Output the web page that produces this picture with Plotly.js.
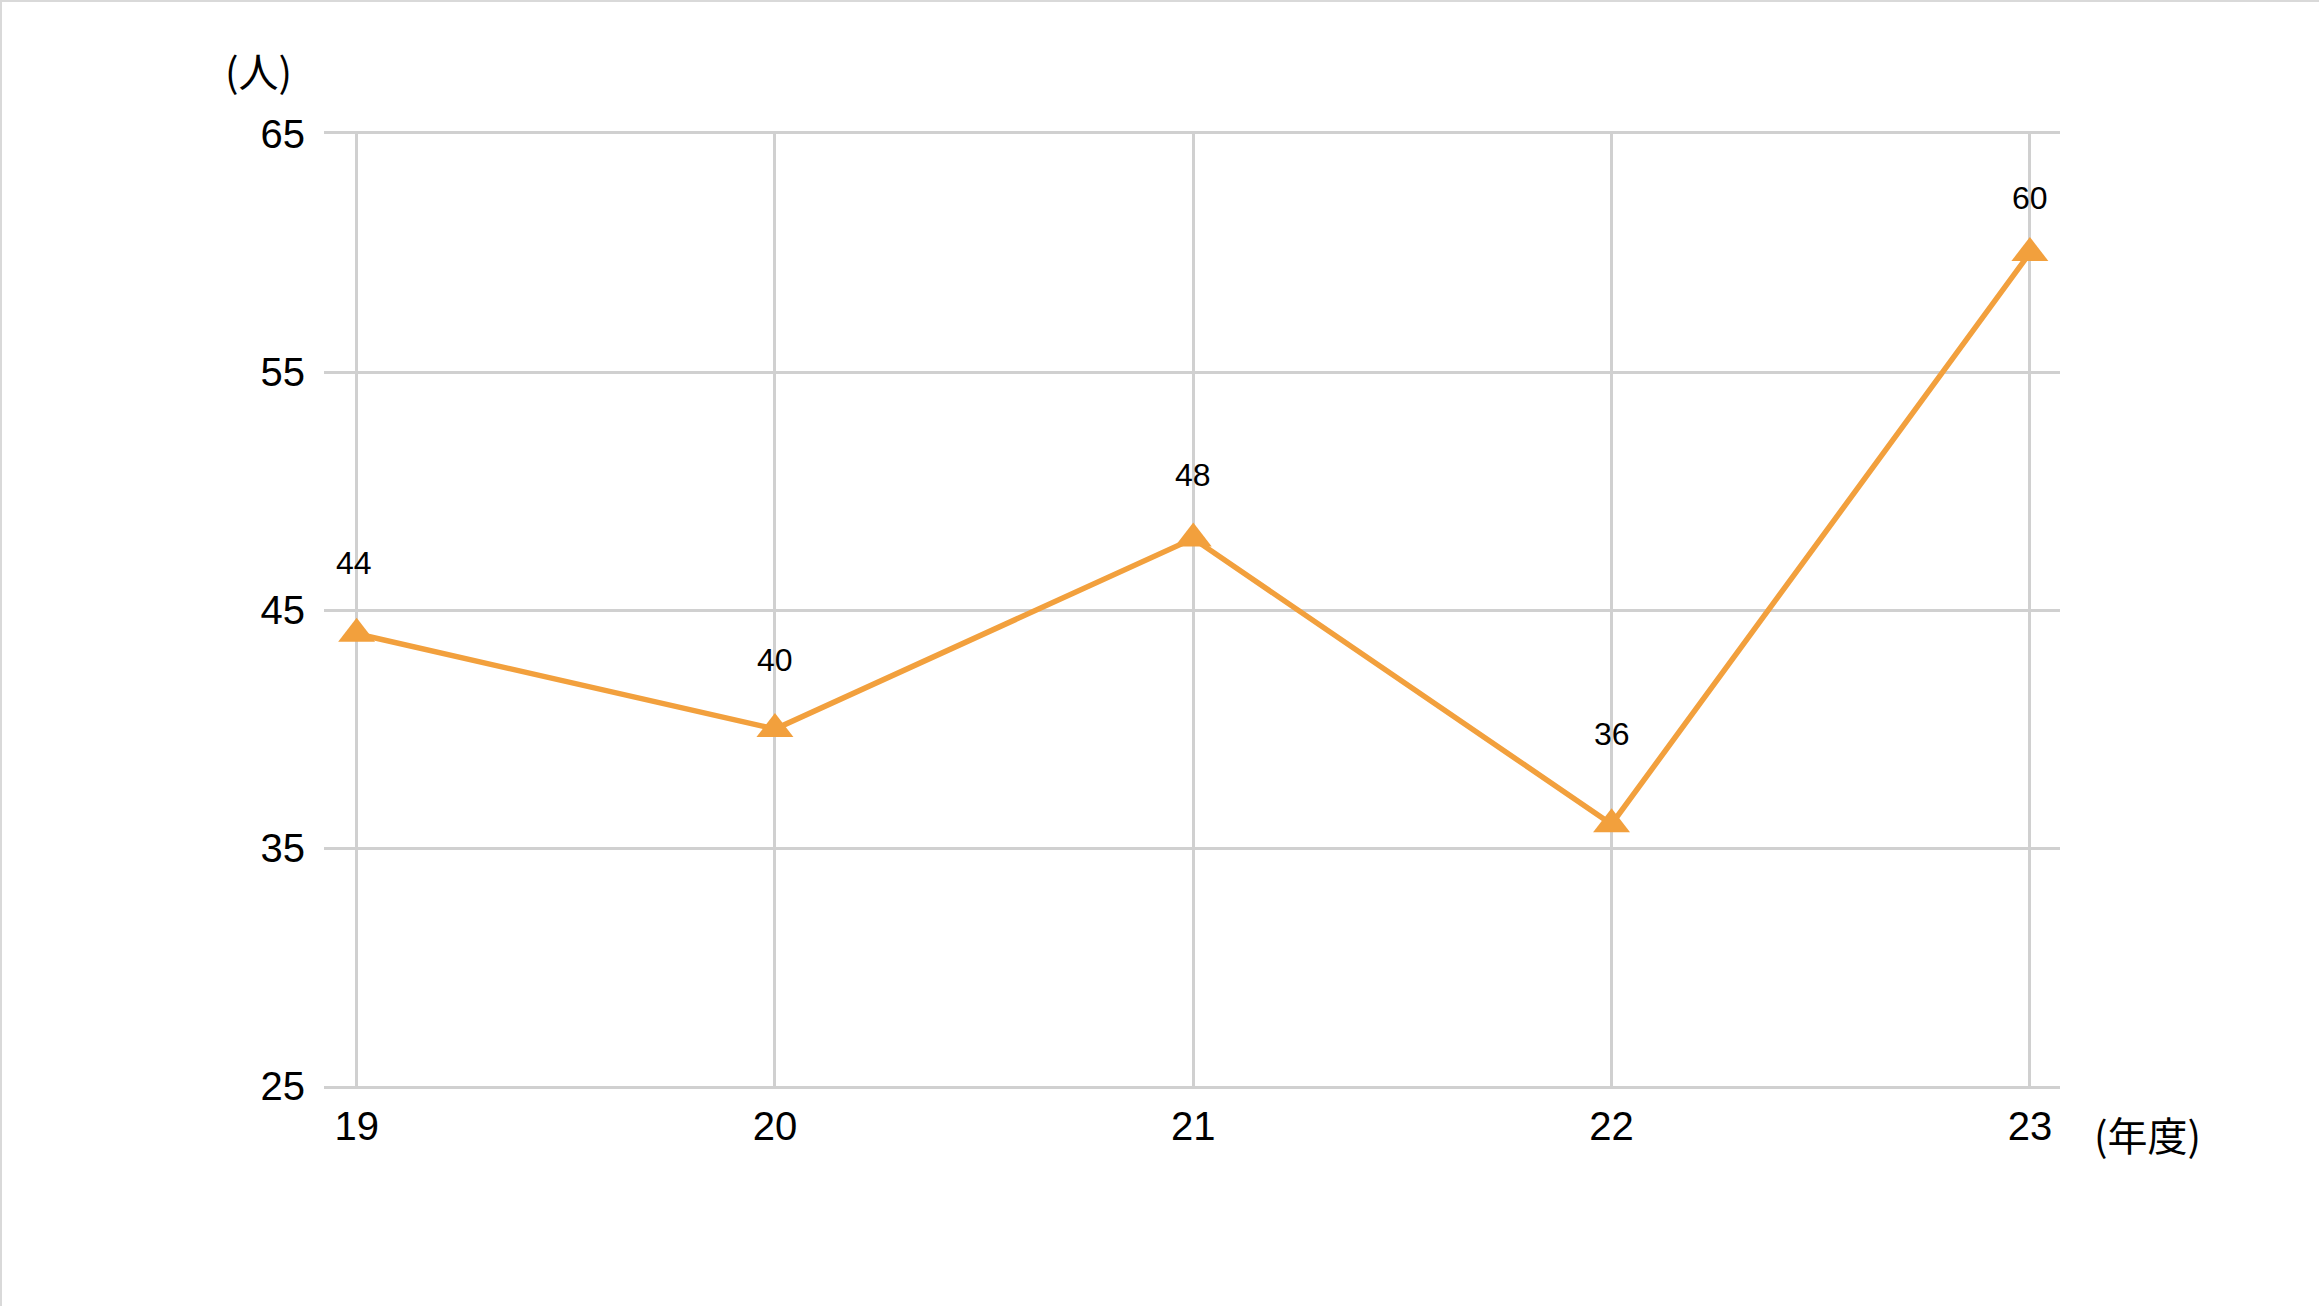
<!DOCTYPE html>
<html>
<head>
<meta charset="utf-8">
<script src="https://cdn.plot.ly/plotly-3.0.1.min.js"></script>
<style>
  html, body { margin: 0; padding: 0; background: #fff; }
  #chart { position: absolute; left: 0; top: 0; width: 2319px; height: 1306px; }
  #frame { position: absolute; left: 0; top: 0; width: 2319px; height: 1306px;
           border-top: 2px solid #d9d9d9; border-left: 2px solid #d9d9d9;
           box-sizing: border-box; pointer-events: none; }
</style>
</head>
<body>
<div id="chart"></div>
<div id="frame"></div>
<script>
// ---- data ----
const years = ['19', '20', '21', '22', '23'];
const people = [44, 40, 48, 36, 60];
const yTicks = [25, 35, 45, 55, 65];
const yUnit = '(人)';
const xUnit = '(年度)';

// ---- presentation ----
const lineColor = '#F2A03D';
const gridColor = '#d0d0d0';
const labelShift = [71, 69, 64, 90, 55];
const baseFont = 'Liberation Sans, Arial, Helvetica, sans-serif';
const cjkFont = 'Noto Sans CJK JP, Noto Sans, sans-serif';

const trace = {
  type: 'scatter',
  mode: 'lines+markers',
  x: years,
  y: people,
  line: { color: lineColor, width: 5.5 },
  marker: { symbol: 'triangle-up', size: 32, color: lineColor },
  hoverinfo: 'skip',
  cliponaxis: false
};

const annotations = years.map((yr, i) => ({
  x: i, y: people[i], xref: 'x', yref: 'y',
  text: String(people[i]), showarrow: false,
  yanchor: 'middle', xanchor: 'center',
  xshift: i === 0 ? -3 : 0,
  yshift: labelShift[i],
  font: { family: baseFont, size: 32, color: '#000' }
}));
annotations.push({
  xref: 'paper', yref: 'paper', x: -0.038, y: 1.0, xanchor: 'center', yanchor: 'middle',
  yshift: 64, text: yUnit, showarrow: false,
  font: { family: cjkFont, size: 40, color: '#000' }
});
annotations.push({
  xref: 'paper', yref: 'paper', x: 1.0, y: 0, xanchor: 'center', yanchor: 'middle',
  xshift: 87, yshift: -48, text: xUnit, showarrow: false,
  font: { family: cjkFont, size: 40, color: '#000' }
});

const layout = {
  width: 2319, height: 1306,
  margin: { l: 324, r: 259, t: 134, b: 220, pad: 0 },
  paper_bgcolor: '#ffffff', plot_bgcolor: '#ffffff',
  showlegend: false,
  font: { family: baseFont, color: '#000' },
  xaxis: {
    type: 'category',
    range: [-0.078, 4.072],
    showgrid: true, gridcolor: gridColor, gridwidth: 3,
    showline: true, mirror: true, linecolor: gridColor, linewidth: 3,
    zeroline: false, ticks: '',
    tickfont: { family: baseFont, size: 40, color: '#000' },
    ticklabelstandoff: 3
  },
  yaxis: {
    range: [25, 65],
    tickvals: yTicks,
    showgrid: true, gridcolor: gridColor, gridwidth: 3,
    zeroline: false, showline: false, ticks: '',
    tickfont: { family: baseFont, size: 40, color: '#000' },
    ticklabelstandoff: 18
  },
  annotations: annotations
};

Plotly.newPlot('chart', [trace], layout, { displayModeBar: false, staticPlot: true });
</script>
</body>
</html>
